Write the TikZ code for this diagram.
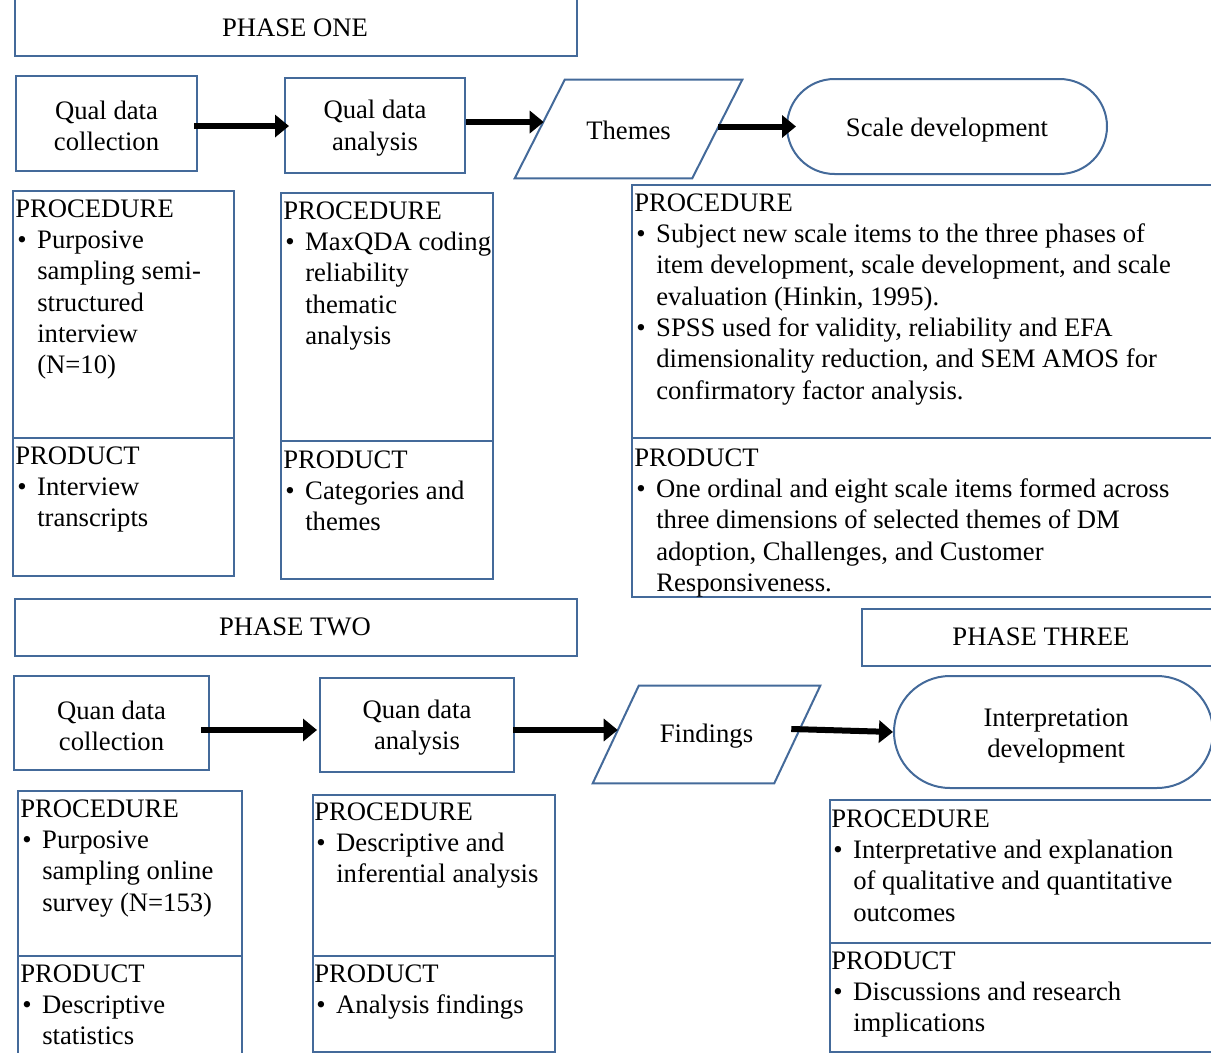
\documentclass[tikz,border=0pt]{standalone}
\usepackage{fontspec}
\setmainfont{Liberation Serif}
\usetikzlibrary{arrows.meta,shapes.misc}
\definecolor{frame}{RGB}{68,106,154}

% bullet item helpers: first line with bullet, continuation lines indented
\newcommand{\itm}[1]{\makebox[16.5pt][l]{\hspace{1.5pt}\textbullet}#1}
\newcommand{\cnt}[1]{\hspace*{16.5pt}#1}

\tikzset{
  every node/.style={font=\fontsize{20pt}{23.5pt}\selectfont},
  outline/.style={draw=frame, line width=1.5pt, fill=white},
  stepbox/.style 2 args={outline, rectangle, inner sep=0pt,
    minimum width=#1*0.75pt, minimum height=#2*0.75pt},
  panel/.style 2 args={outline, rectangle, inner sep=0pt, anchor=north west,
    minimum width=#1*0.75pt, minimum height=#2*0.75pt},
  % text area of a data (parallelogram) symbol; the slanted outline is drawn around it
  datacore/.style 2 args={rectangle, inner sep=0pt,
    minimum width=#1*0.75pt, minimum height=#2*0.75pt},
  termbox/.style 2 args={outline, rounded rectangle, inner sep=0pt,
    minimum width=#1*0.75pt, minimum height=#2*0.75pt},
  % centred caption inside a flow symbol
  steptext/.style={inner sep=0pt, align=center, yshift=-#1},
  % multi-line list text: the given point is the baseline of the first line
  listtext/.style={anchor=base west, inner sep=0pt, align=left,
    yshift=-(#1-1)*23.5pt},
  flow/.style={line width=4.5pt, -{Triangle[length=10.5pt,width=16.5pt]}},
}

\begin{document}
\begin{tikzpicture}[x=0.75pt,y=-0.75pt]
\useasboundingbox (0,0) rectangle (1211,1053);
\clip (0,0) rectangle (1211,1053);

% ---------------- phase one ----------------
\node[panel={562}{65}] (p1) at (14,-10) {};
\node (p1t) at (295,28) {PHASE ONE};

\node[stepbox={181}{95}] (qdc) at (106.5,123.5) {};
\node[steptext=2pt] (qdct) at (qdc.center) {Qual data\\collection};
\node[stepbox={180}{95}] (qda) at (375,125.5) {};
\node[steptext=2pt] (qdat) at (qda.center) {Qual data\\analysis};
\node[datacore={177}{98}] (themes) at (628.5,129) {};
\draw[outline] ([xshift=-18.75pt]themes.south west) -- ([xshift=18.75pt]themes.north west)
  -- ([xshift=18.75pt]themes.north east) -- ([xshift=-18.75pt]themes.south east) -- cycle;
\node[steptext=0.75pt] (themest) at (themes.center) {Themes};
\node[termbox={320}{95}] (scale) at (947,126.5) {};
\node[steptext=2.5pt] (scalet) at (scale.center) {Scale development};

\draw[flow, shorten <=-3pt, shorten >=-3.75pt] ([yshift=-1.9pt]qdc.east) -- ([yshift=-1.9pt]qdc.east -| qda.west);
\draw[flow, shorten >=-3pt] ([yshift=2.6pt]qda.east) -- ([yshift=2.6pt]qda.east -| themes.west);
\draw[flow, shorten <=0.75pt, shorten >=-7.5pt] (themes.east |- scale.west) -- (scale.west);

% procedure / product panels, phase one
\node[panel={221}{247}] (procA) at (12,190) {};
\node[panel={221}{138}] (prodA) at (12,437) {};
\node[panel={212}{248}] (procB) at (280,192) {};
\node[panel={212}{138}] (prodB) at (280,440) {};
\node[panel={600}{253}] (procC) at (631,184) {};
\node[panel={600}{159}] (prodC) at (631,437) {};

\node[listtext=6] (procAt) at (15,217) {PROCEDURE\\\itm{Purposive}\\\cnt{sampling semi-}\\\cnt{structured}\\\cnt{interview}\\\cnt{(N=10)}};
\node[listtext=3] (prodAt) at (15,464) {PRODUCT\\\itm{Interview}\\\cnt{transcripts}};

\node[listtext=5] (procBt) at (283,219) {PROCEDURE\\\itm{MaxQDA coding}\\\cnt{reliability}\\\cnt{thematic}\\\cnt{analysis}};
\node[listtext=3] (prodBt) at (283,468) {PRODUCT\\\itm{Categories and}\\\cnt{themes}};

\node[listtext=7] (procCt) at (634,211) {PROCEDURE\\\itm{Subject new scale items to the three phases of}\\\cnt{item development, scale development, and scale}\\\cnt{evaluation (Hinkin, 1995).}\\\itm{SPSS used for validity, reliability and EFA}\\\cnt{dimensionality reduction, and SEM AMOS for}\\\cnt{confirmatory factor analysis.}};
\node[listtext=5] (prodCt) at (634,466) {PRODUCT\\\itm{One ordinal and eight scale items formed across}\\\cnt{three dimensions of selected themes of DM}\\\cnt{adoption, Challenges, and Customer}\\\cnt{Responsiveness.}};

% ---------------- phase two / three ----------------
\node[panel={562}{57}] (p2) at (14,598) {};
\node (p2t) at (295,627) {PHASE TWO};
\node[panel={370}{57}] (p3) at (861,608) {};
\node (p3t) at (1041,637) {PHASE THREE};

\node[stepbox={195}{94}] (qnc) at (111.5,723) {};
\node[steptext=2pt] (qnct) at (qnc.center) {Quan data\\collection};
\node[stepbox={194}{94}] (qna) at (417,725) {};
\node[steptext=2pt] (qnat) at (qna.center) {Quan data\\analysis};
\node[datacore={181}{97}] (find) at (706.5,734.5) {};
\draw[outline] ([xshift=-17.25pt]find.south west) -- ([xshift=17.25pt]find.north west)
  -- ([xshift=17.25pt]find.north east) -- ([xshift=-17.25pt]find.south east) -- cycle;
\node[steptext=1.5pt] (findt) at (find.center) {Findings};
\node[termbox={319}{112}] (interp) at (1053.5,732) {};
\node[steptext=3pt] (interpt) at ([xshift=2pt]interp.center) {Interpretation\\development};

\draw[flow, shorten <=-6.75pt, shorten >=1.5pt] ([yshift=-5.25pt]qnc.east) -- ([yshift=-5.25pt]qnc.east -| qna.west);
\draw[flow, shorten <=-1.5pt, shorten >=-1.5pt] ([yshift=-3.75pt]qna.east) -- ([yshift=-3.75pt]qna.east -| find.west);
\draw[flow, shorten <=-4.5pt] ([yshift=4pt]find.east) -- (interp.west);

% procedure / product panels, phases two and three
\node[panel={224}{165}] (procD) at (17,790) {};
\node[panel={224}{140}] (prodD) at (17,955) {};
\node[panel={242}{161}] (procE) at (312,794) {};
\node[panel={242}{96}] (prodE) at (312,955) {};
\node[panel={400}{143}] (procF) at (829,799) {};
\node[panel={400}{109}] (prodF) at (829,942) {};

\node[listtext=4] (procDt) at (20,817) {PROCEDURE\\\itm{Purposive}\\\cnt{sampling online}\\\cnt{survey (N=153)}};
\node[listtext=3] (prodDt) at (20,982) {PRODUCT\\\itm{Descriptive}\\\cnt{statistics}};

\node[listtext=3] (procEt) at (314,820) {PROCEDURE\\\itm{Descriptive and}\\\cnt{inferential analysis}};
\node[listtext=2] (prodEt) at (314,982) {PRODUCT\\\itm{Analysis findings}};

\node[listtext=4] (procFt) at (831,827) {PROCEDURE\\\itm{Interpretative and explanation}\\\cnt{of qualitative and quantitative}\\\cnt{outcomes}};
\node[listtext=3] (prodFt) at (831,969) {PRODUCT\\\itm{Discussions and research}\\\cnt{implications}};
\end{tikzpicture}
\end{document}
